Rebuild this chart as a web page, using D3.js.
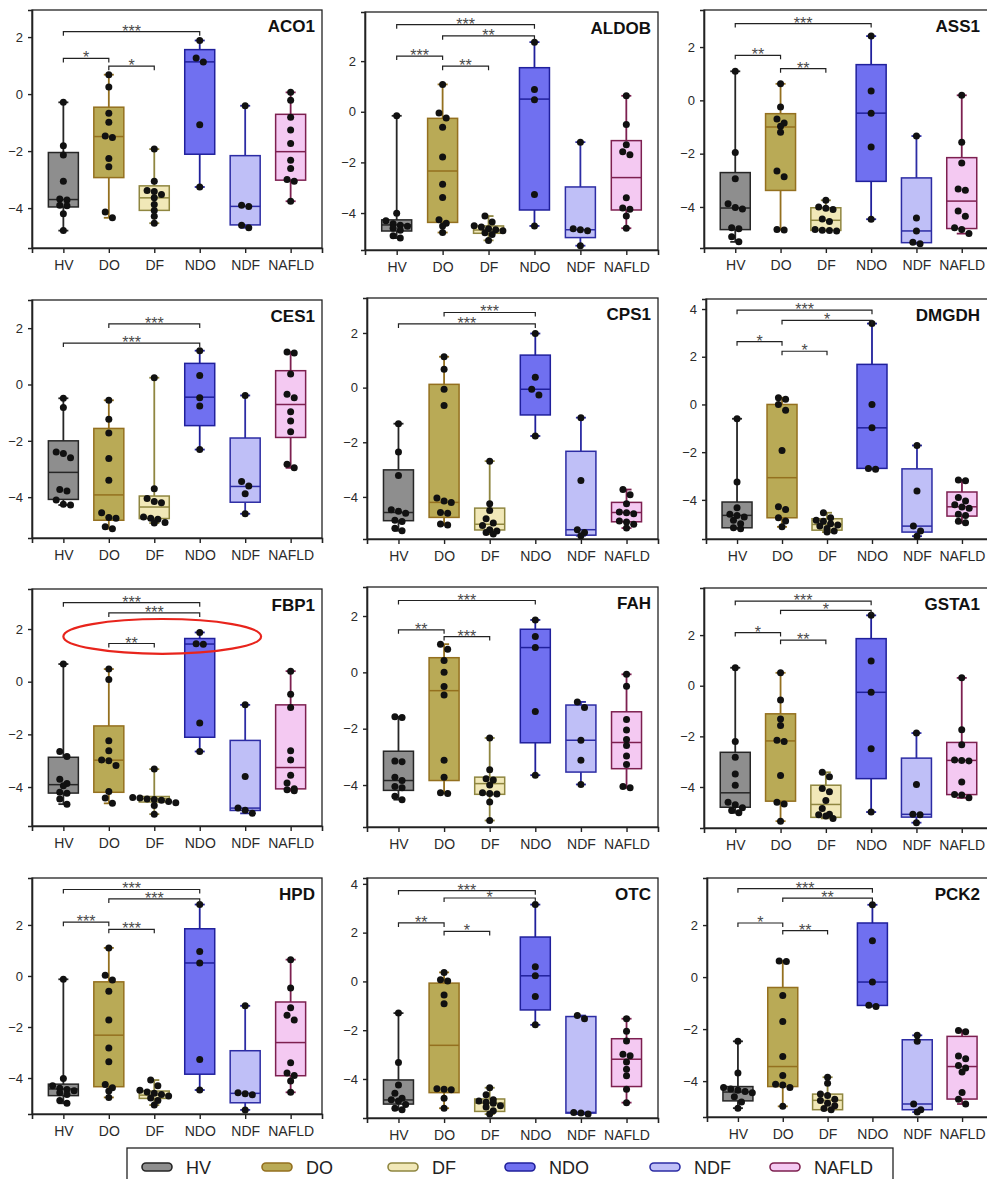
<!DOCTYPE html>
<html>
<head>
<meta charset="utf-8">
<script src="https://cdn.jsdelivr.net/npm/d3@7"></script>
<style>
  body { margin: 0; background: #fff; }
  svg { display: block; }
</style>
</head>
<body>
<svg id="fig" width="987" height="1179"></svg>
<script>
// ---- categories ----
const groups = ["HV", "DO", "DF", "NDO", "NDF", "NAFLD"];
const genes = ["ACO1", "ALDOB", "ASS1", "CES1", "CPS1", "DMGDH", "FBP1", "FAH", "GSTA1", "HPD", "OTC", "PCK2"];

// ---- box statistics per gene: one [min, Q1, median, Q3, max] per group ----
const ACO1_box = [[-4.79,-3.96,-3.7,-2.05,-0.29],[-4.34,-2.93,-1.49,-0.46,0.68],[-4.53,-4.08,-3.64,-3.22,-1.93],[-3.26,-2.11,1.13,1.56,1.88],[-4.69,-4.59,-3.94,-2.16,-0.41],[-3.76,-3.02,-2.02,-0.71,0.06]];
const ALDOB_box = [[-4.99,-4.71,-4.47,-4.27,-0.16],[-4.77,-4.37,-2.34,-0.26,1.08],[-5.08,-4.8,-4.67,-4.51,-4.12],[-4.51,-3.88,0.5,1.74,2.75],[-5.29,-4.97,-4.66,-2.97,-1.2],[-4.6,-3.88,-2.6,-1.14,0.63]];
const ASS1_box = [[-5.31,-4.85,-4.04,-2.71,1.09],[-4.86,-3.38,-1.0,-0.5,0.62],[-4.9,-4.88,-4.5,-4.03,-3.75],[-4.46,-3.04,-0.48,1.34,2.41],[-5.38,-5.34,-4.9,-2.91,-1.34],[-5.0,-4.81,-3.78,-2.15,0.19]];
const CES1_box = [[-4.28,-4.08,-3.12,-2.0,-0.49],[-5.12,-4.82,-3.92,-1.56,-0.56],[-4.92,-4.76,-4.35,-3.96,0.24],[-2.31,-1.46,-0.45,0.75,1.2],[-4.59,-4.18,-3.62,-1.9,-0.39],[-2.96,-1.88,-0.71,0.49,1.15]];
const CPS1_box = [[-5.24,-4.87,-4.57,-3.01,-1.32],[-5.03,-4.75,-4.2,0.12,1.13],[-5.36,-5.21,-5.0,-4.41,-2.69],[-1.77,-1.0,-0.06,1.19,1.98],[-5.42,-5.4,-5.2,-2.33,-1.1],[-5.14,-4.91,-4.57,-4.2,-3.73]];
const DMGDH_box = [[-5.21,-5.17,-4.65,-4.09,-0.6],[-5.13,-4.75,-3.07,0.0,0.28],[-5.35,-5.27,-5.03,-4.79,-4.54],[-2.72,-2.68,-0.98,1.68,3.39],[-5.52,-5.35,-5.1,-2.7,-1.72],[-4.96,-4.68,-4.29,-3.67,-3.17]];
const FBP1_box = [[-4.65,-4.23,-3.91,-2.87,0.67],[-4.62,-4.2,-2.98,-1.68,0.48],[-5.03,-4.57,-4.44,-4.36,-3.32],[-2.65,-2.11,1.43,1.64,1.87],[-5.0,-4.89,-4.8,-2.23,-0.88],[-4.14,-4.07,-3.26,-0.88,0.4]];
const FAH_box = [[-4.52,-4.19,-3.84,-2.8,-1.58],[-4.3,-3.84,-0.65,0.52,1.0],[-5.26,-4.33,-3.95,-3.72,-2.33],[-3.65,-2.5,0.88,1.53,1.86],[-3.98,-3.54,-2.41,-1.16,-1.05],[-4.1,-3.42,-2.49,-1.4,-0.07]];
const GSTA1_box = [[-5.02,-4.8,-4.23,-2.63,0.71],[-5.35,-4.56,-2.18,-1.11,0.51],[-5.24,-5.2,-4.69,-3.93,-3.42],[-4.99,-3.67,-0.26,1.86,2.78],[-5.41,-5.19,-5.08,-2.86,-1.87],[-4.43,-4.3,-2.95,-2.24,0.31]];
const HPD_box = [[-4.99,-4.69,-4.43,-4.24,-0.13],[-4.76,-4.34,-2.32,-0.23,1.1],[-5.06,-4.8,-4.67,-4.51,-4.08],[-4.47,-3.85,0.51,1.85,2.8],[-5.25,-4.97,-4.6,-2.93,-1.17],[-4.56,-3.91,-2.61,-1.02,0.64]];
const OTC_box = [[-5.26,-5.03,-4.86,-4.04,-1.3],[-5.2,-4.56,-2.62,-0.07,0.37],[-5.44,-5.33,-4.99,-4.82,-4.36],[-1.78,-1.17,0.23,1.82,3.15],[-5.44,-5.4,-5.37,-1.44,-1.4],[-4.97,-4.31,-3.19,-2.35,-1.53]];
const PCK2_box = [[-5.04,-4.76,-4.42,-4.21,-2.47],[-4.97,-4.21,-3.44,-0.4,0.62],[-5.1,-5.1,-4.74,-4.5,-3.85],[-1.13,-1.09,-0.19,2.08,2.78],[-5.19,-5.1,-4.88,-2.41,-2.24],[-4.88,-4.69,-3.44,-2.28,-2.05]];

// ---- individual samples per gene, one list per group ----
const ACO1_pts = [[-0.29,-1.81,-2.14,-3.06,-3.68,-3.72,-3.9,-3.92,-4.2,-4.79],[0.68,0.25,-0.67,-0.99,-1.47,-1.52,-2.26,-2.55,-4.14,-4.34],[-1.93,-3.06,-3.38,-3.42,-3.52,-3.64,-3.87,-4.08,-4.29,-4.53],[1.88,1.27,1.13,-1.08,-3.26],[-0.41,-3.9,-3.94,-4.6,-4.69],[0.06,-0.22,-0.81,-1.26,-1.73,-2.32,-2.61,-3.0,-3.06,-3.76]];
const ALDOB_pts = [[-0.16,-4.01,-4.3,-4.42,-4.48,-4.52,-4.6,-4.68,-4.9,-4.99],[1.08,-0.05,-0.25,-0.61,-1.79,-2.86,-3.39,-4.27,-4.4,-4.51,-4.77],[-4.12,-4.35,-4.5,-4.55,-4.62,-4.66,-4.7,-4.78,-4.85,-5.08],[2.75,0.88,0.47,-3.27,-4.51],[-1.2,-4.62,-4.66,-4.7,-5.29],[0.63,-0.5,-1.3,-1.58,-1.7,-3.4,-3.8,-3.85,-4.12,-4.6]];
const ASS1_pts = [[1.09,-1.96,-2.94,-3.88,-4.02,-4.08,-4.78,-4.82,-5.12,-5.31],[0.62,-0.25,-0.7,-0.85,-0.97,-1.2,-2.65,-2.87,-4.85,-4.86],[-3.75,-4.0,-4.05,-4.1,-4.45,-4.55,-4.85,-4.87,-4.88,-4.9],[2.41,0.35,-0.48,-1.75,-4.46],[-1.34,-4.41,-4.9,-5.32,-5.38],[0.19,-1.57,-2.35,-3.33,-3.37,-4.15,-4.35,-4.78,-4.85,-5.0]];
const CES1_pts = [[-0.49,-0.82,-2.4,-2.45,-2.6,-3.73,-3.78,-4.1,-4.25,-4.28],[-0.56,-1.23,-1.72,-2.63,-3.4,-4.55,-4.72,-4.75,-5.05,-5.12],[0.24,-3.7,-4.05,-4.15,-4.2,-4.7,-4.75,-4.78,-4.9,-4.92],[1.2,0.32,-0.47,-0.76,-2.31],[-0.39,-3.44,-3.6,-3.88,-4.59],[1.15,1.12,0.37,-0.35,-0.47,-0.97,-1.3,-1.68,-2.83,-2.96]];
const CPS1_pts = [[-1.32,-2.36,-3.22,-4.47,-4.52,-4.6,-4.85,-4.9,-5.15,-5.24],[1.13,0.67,-0.06,-0.65,-4.04,-4.15,-4.2,-4.57,-4.6,-4.99,-5.03],[-2.69,-4.25,-4.5,-4.8,-4.95,-5.05,-5.2,-5.25,-5.3,-5.36],[1.98,0.38,-0.06,-0.27,-1.77],[-1.1,-3.4,-5.2,-5.3,-5.42],[-3.73,-3.92,-4.25,-4.55,-4.58,-4.62,-4.88,-4.92,-5.0,-5.14]];
const DMGDH_pts = [[-0.6,-3.25,-4.33,-4.6,-4.65,-4.72,-4.85,-5.0,-5.17,-5.21],[0.28,0.22,0.0,-0.24,-1.93,-4.29,-4.4,-4.75,-4.89,-5.13],[-4.54,-4.75,-4.85,-4.9,-5.0,-5.05,-5.1,-5.2,-5.3,-5.35],[3.39,0.0,-0.98,-2.68,-2.72],[-1.72,-3.63,-5.1,-5.3,-5.52],[-3.17,-3.2,-3.9,-4.05,-4.2,-4.3,-4.35,-4.6,-4.65,-4.9,-4.96]];
const FBP1_pts = [[0.67,-2.65,-2.84,-3.7,-3.87,-3.95,-4.2,-4.24,-4.45,-4.65],[0.48,0.08,-2.24,-2.62,-2.97,-3.0,-3.18,-4.17,-4.42,-4.62],[-3.32,-4.4,-4.42,-4.45,-4.47,-4.5,-4.55,-4.6,-4.7,-5.03],[1.87,1.44,1.42,-1.57,-2.65],[-0.88,-3.6,-4.8,-4.88,-5.0],[0.4,-0.48,-0.98,-2.62,-2.97,-3.55,-3.85,-4.07,-4.1,-4.14]];
const FAH_pts = [[-1.58,-1.6,-3.15,-3.17,-3.72,-3.84,-4.05,-4.1,-4.4,-4.52],[1.0,0.82,0.42,0.0,-0.5,-0.8,-3.12,-3.72,-4.27,-4.3],[-2.33,-3.46,-3.78,-3.82,-4.0,-4.27,-4.3,-4.32,-4.6,-5.26],[1.86,1.27,0.88,-1.39,-3.65],[-1.05,-1.25,-2.41,-3.12,-3.98],[-0.07,-0.49,-1.67,-2.05,-2.38,-2.6,-2.97,-3.27,-4.05,-4.1]];
const GSTA1_pts = [[0.71,-2.2,-2.83,-3.49,-3.93,-4.6,-4.7,-4.82,-4.93,-5.02],[0.51,-0.56,-1.31,-1.57,-2.15,-2.2,-3.55,-4.6,-4.67,-5.35],[-3.42,-3.6,-4.06,-4.19,-4.53,-4.85,-5.08,-5.1,-5.15,-5.24],[2.78,0.98,-0.26,-2.49,-4.99],[-1.87,-3.9,-5.08,-5.1,-5.41],[0.31,-1.74,-2.33,-2.93,-2.95,-2.97,-3.8,-4.3,-4.32,-4.43]];
const HPD_pts = [[-0.13,-4.02,-4.3,-4.4,-4.45,-4.5,-4.58,-4.65,-4.88,-4.99],[1.1,0.03,-0.16,-0.6,-1.73,-2.82,-3.36,-4.25,-4.38,-4.51,-4.76],[-4.08,-4.3,-4.48,-4.55,-4.6,-4.65,-4.7,-4.78,-4.88,-5.06],[2.8,0.96,0.51,-3.27,-4.47],[-1.17,-4.58,-4.62,-4.66,-5.25],[0.64,-0.47,-1.25,-1.54,-1.73,-3.4,-3.8,-3.9,-4.12,-4.56]];
const OTC_pts = [[-1.3,-3.32,-4.25,-4.59,-4.79,-4.85,-4.9,-5.05,-5.2,-5.26],[0.37,0.07,0.02,-0.56,-0.92,-4.4,-4.42,-4.44,-4.79,-5.2],[-4.36,-4.65,-4.85,-4.9,-4.95,-5.0,-5.1,-5.15,-5.3,-5.44],[3.15,0.6,0.23,-0.62,-1.78],[-1.4,-1.53,-5.37,-5.4,-5.44],[-1.53,-2.04,-2.44,-2.99,-3.05,-3.3,-3.6,-3.87,-4.42,-4.97]];
const PCK2_pts = [[-2.47,-3.69,-4.25,-4.3,-4.35,-4.4,-4.45,-4.6,-4.8,-5.04],[0.62,0.6,-0.71,-1.71,-3.05,-3.78,-4.12,-4.15,-4.25,-4.97],[-3.85,-4.08,-4.5,-4.55,-4.7,-4.75,-4.85,-4.95,-5.05,-5.1],[2.78,1.4,-0.19,-1.08,-1.13],[-2.24,-2.47,-4.88,-5.1,-5.19],[-2.05,-2.1,-3.03,-3.14,-3.4,-3.5,-3.65,-4.44,-4.7,-4.88]];

// ---- significance comparisons: [group A, group B, stars, bracket level in data units] ----
const ACO1_sig = [["HV","NDO","***",2.19],["HV","DO","*",1.25],["DO","DF","*",0.98]];
const ALDOB_sig = [["HV","NDO","***",3.44],["DO","NDO","**",3.0],["HV","DO","***",2.2],["DO","DF","**",1.8]];
const ASS1_sig = [["HV","NDO","***",2.88],["HV","DO","**",1.69],["DO","DF","**",1.19]];
const CES1_sig = [["DO","NDO","***",2.15],["HV","NDO","***",1.47]];
const CPS1_sig = [["DO","NDO","***",2.75],["HV","NDO","***",2.33]];
const DMGDH_sig = [["HV","NDO","***",3.95],["DO","NDO","*",3.52],["HV","DO","*",2.63],["DO","DF","*",2.23]];
const FBP1_sig = [["HV","NDO","***",3.0],["DO","NDO","***",2.61],["DO","DF","**",1.45]];
const FAH_sig = [["HV","NDO","***",2.55],["HV","DO","**",1.51],["DO","DF","***",1.27]];
const GSTA1_sig = [["HV","NDO","***",3.34],["DO","NDO","*",2.98],["HV","DO","*",2.1],["DO","DF","**",1.8]];
const HPD_sig = [["HV","NDO","***",3.39],["DO","NDO","***",3.02],["HV","DO","***",2.11],["DO","DF","***",1.83]];
const OTC_sig = [["HV","NDO","***",3.72],["DO","NDO","*",3.42],["HV","DO","**",2.4],["DO","DF","*",2.05]];
const PCK2_sig = [["HV","NDO","***",3.4],["DO","NDO","**",3.04],["HV","DO","*",2.08],["DO","DF","**",1.79]];

const boxByGene = {ACO1:ACO1_box, ALDOB:ALDOB_box, ASS1:ASS1_box, CES1:CES1_box, CPS1:CPS1_box, DMGDH:DMGDH_box, FBP1:FBP1_box, FAH:FAH_box, GSTA1:GSTA1_box, HPD:HPD_box, OTC:OTC_box, PCK2:PCK2_box};
const ptsByGene = {ACO1:ACO1_pts, ALDOB:ALDOB_pts, ASS1:ASS1_pts, CES1:CES1_pts, CPS1:CPS1_pts, DMGDH:DMGDH_pts, FBP1:FBP1_pts, FAH:FAH_pts, GSTA1:GSTA1_pts, HPD:HPD_pts, OTC:OTC_pts, PCK2:PCK2_pts};
const sigByGene = {ACO1:ACO1_sig, ALDOB:ALDOB_sig, ASS1:ASS1_sig, CES1:CES1_sig, CPS1:CPS1_sig, DMGDH:DMGDH_sig, FBP1:FBP1_sig, FAH:FAH_sig, GSTA1:GSTA1_sig, HPD:HPD_sig, OTC:OTC_sig, PCK2:PCK2_sig};

// ---- layout: panel frames [left, top, right, bottom] and y ranges ----
const panelFrames = [
  [32, 10, 322, 248], [365, 12, 658, 250], [704, 10, 993, 248],
  [32, 300, 322, 538], [367, 298, 658, 539], [706, 299, 993, 539],
  [32, 589, 322, 826], [367, 587, 658, 827], [704, 588, 993, 828],
  [32, 878, 322, 1114], [367, 878, 658, 1118], [707, 878, 993, 1117]
];
const yDomains = [
  [-5.4, 2.95], [-5.46, 3.94], [-5.54, 3.39],
  [-5.45, 3.0], [-5.54, 3.28], [-5.64, 4.42],
  [-5.48, 3.52], [-5.49, 3.03], [-5.62, 3.86],
  [-5.41, 3.84], [-5.6, 4.24], [-5.38, 3.81]
];

const fills = {HV:"#8e8e8e", DO:"#b9aa56", DF:"#f1e8b8", NDO:"#7070f0", NDF:"#bfbff7", NAFLD:"#f4c9f2"};
const strokes = {HV:"#262626", DO:"#94701f", DF:"#8f8640", NDO:"#20209c", NDF:"#2c2ca4", NAFLD:"#7d2050"};

const FONT = "Arial, 'Liberation Sans', sans-serif";
const svg = d3.select("#fig");
const BOX_W = 30, CAP_W = 10, R = 3.5;

// place samples of one group side by side where they would overlap
function swarm(values, y, cx) {
  const items = values.map(v => ({ v, py: y(v) })).sort((a, b) => a.py - b.py);
  const rows = [];
  items.forEach(it => {
    const last = rows[rows.length - 1];
    if (last && it.py - last[0].py < R * 1.7) last.push(it); else rows.push([it]);
  });
  rows.forEach(row => row.forEach((it, k) => { it.px = cx + (k - (row.length - 1) / 2) * R * 2.05; }));
  return items;
}

genes.forEach((gene, i) => {
  const [x0, y0, x1, y1] = panelFrames[i];
  const dom = yDomains[i];
  const x = d3.scalePoint().domain(groups).range([x0, x1]).padding(0.69);
  const y = d3.scaleLinear().domain(dom).range([y1, y0]);
  const g = svg.append("g");

  // frame
  g.append("rect").attr("x", x0).attr("y", y0).attr("width", x1 - x0).attr("height", y1 - y0)
    .attr("fill", "none").attr("stroke", "#222").attr("stroke-width", 1.3);

  // axes
  const yTicks = d3.range(-4, Math.floor(dom[1] / 2) * 2 + 1, 2);
  const ya = g.append("g").attr("transform", `translate(${x0},0)`)
    .call(d3.axisLeft(y).tickValues(yTicks).tickSize(4).tickPadding(5).tickFormat(d3.format("d")));
  const xa = g.append("g").attr("transform", `translate(0,${y1})`)
    .call(d3.axisBottom(x).tickSize(5).tickPadding(7));
  [ya, xa].forEach(a => {
    a.select(".domain").attr("stroke", "#222").attr("stroke-width", 1.6);
    a.selectAll(".tick line").attr("stroke", "#222").attr("stroke-width", 1.4);
    a.selectAll("text").attr("font-family", FONT).attr("fill", "#2a2a2a");
  });
  ya.selectAll("text").attr("font-size", 13);
  xa.selectAll("text").attr("font-size", 14);

  // boxes
  const boxes = boxByGene[gene];
  groups.forEach((grp, j) => {
    const [mn, q1, md, q3, mx] = boxes[j];
    const cx = x(grp);
    const c = strokes[grp];
    const bg = g.append("g");
    bg.append("line").attr("x1", cx).attr("x2", cx).attr("y1", y(mx)).attr("y2", y(mn))
      .attr("stroke", c).attr("stroke-width", 1.8);
    [mn, mx].forEach(v => bg.append("line").attr("x1", cx - CAP_W / 2).attr("x2", cx + CAP_W / 2)
      .attr("y1", y(v)).attr("y2", y(v)).attr("stroke", c).attr("stroke-width", 1.8));
    bg.append("rect").attr("x", cx - BOX_W / 2).attr("y", y(q3)).attr("width", BOX_W)
      .attr("height", Math.max(1, y(q1) - y(q3))).attr("fill", fills[grp]).attr("stroke", c).attr("stroke-width", 1.5);
    bg.append("line").attr("x1", cx - BOX_W / 2).attr("x2", cx + BOX_W / 2).attr("y1", y(md)).attr("y2", y(md))
      .attr("stroke", c).attr("stroke-width", 1.5);
  });

  // samples
  const pts = ptsByGene[gene];
  groups.forEach((grp, j) => {
    const items = swarm(pts[j], y, x(grp));
    g.append("g").selectAll("circle").data(items).join("circle")
      .attr("cx", d => d.px).attr("cy", d => d.py).attr("r", R).attr("fill", "#111");
  });

  // significance brackets
  sigByGene[gene].forEach(([a, b, lab, lvl]) => {
    const ly = y(lvl);
    g.append("path").attr("d", `M${x(a)},${ly + 4}V${ly}H${x(b)}V${ly + 4}`)
      .attr("fill", "none").attr("stroke", "#222").attr("stroke-width", 1.2);
    g.append("text").attr("x", (x(a) + x(b)) / 2).attr("y", ly + 5).attr("text-anchor", "middle")
      .attr("font-family", FONT).attr("font-size", 16).attr("fill", "#4a4a4a").text(lab);
  });

  // gene title
  g.append("text").attr("x", Math.min(x1, 987) - 7).attr("y", y0 + 22).attr("text-anchor", "end")
    .attr("font-family", FONT).attr("font-weight", "bold").attr("font-size", 17).attr("fill", "#111").text(gene);

  // highlight around the DO/DF/NDO comparisons of FBP1
  if (gene === "FBP1") {
    const left = x("HV"), right = x("NDF") + x.step() * 0.35;
    const cy = y(1.72);
    g.append("ellipse").attr("cx", (left + right) / 2).attr("cy", cy)
      .attr("rx", (right - left) / 2).attr("ry", y(1.72 - 0.66) - cy)
      .attr("fill", "none").attr("stroke", "#e8241c").attr("stroke-width", 2.2);
  }
});

// ---- legend ----
const legendX = [142, 262, 388, 505, 650, 770];
const lg = svg.append("g");
lg.append("rect").attr("x", 127).attr("y", 1148).attr("width", 766).attr("height", 40)
  .attr("fill", "#fff").attr("stroke", "#222").attr("stroke-width", 1.3);
groups.forEach((grp, j) => {
  lg.append("rect").attr("x", legendX[j]).attr("y", 1163).attr("width", 30).attr("height", 8).attr("rx", 4)
    .attr("fill", fills[grp]).attr("stroke", strokes[grp]).attr("stroke-width", 1.6);
  lg.append("text").attr("x", legendX[j] + 44).attr("y", 1174).attr("font-family", FONT)
    .attr("font-size", 18).attr("fill", "#222").text(grp);
});
</script>
</body>
</html>
